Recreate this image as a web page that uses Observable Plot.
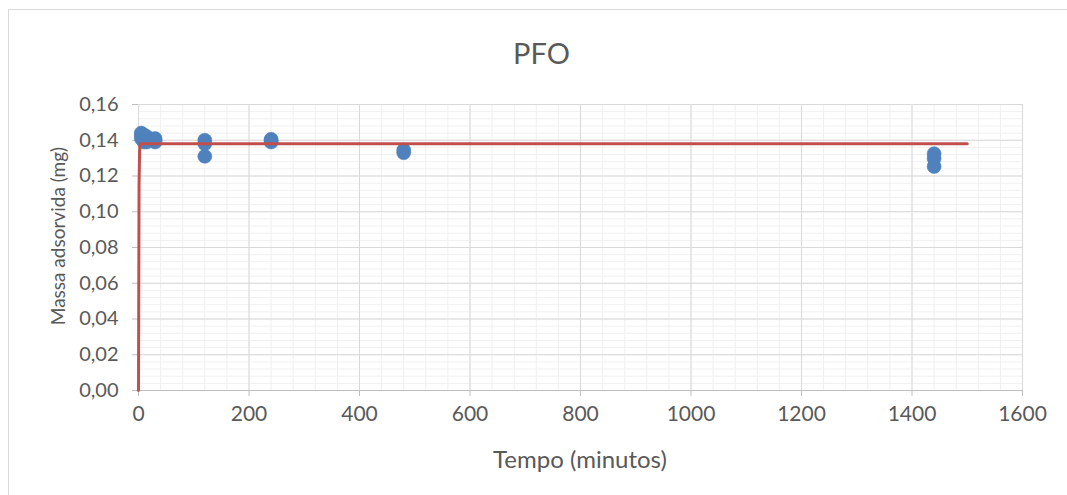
<!DOCTYPE html>
<html><head><meta charset="utf-8">
<script src="https://cdn.jsdelivr.net/npm/d3@7"></script>
<script src="https://cdn.jsdelivr.net/npm/@observablehq/plot@0.6"></script>
<style>
body{margin:0;background:#fff;}
#wrap{position:relative;width:1067px;height:495px;overflow:hidden;font-family:Lato,sans-serif;color:#595959;}
#border{position:absolute;left:8px;top:9px;width:1200px;height:700px;border:1px solid #d9d9d9;}
#title{position:absolute;left:0;width:1083px;top:35px;text-align:center;font-size:29px;}
#ylab{position:absolute;left:57px;top:236px;transform:translate(-50%,-50%) rotate(-90deg);white-space:nowrap;font-size:19px;}
#xlab{position:absolute;left:580px;top:458px;transform:translate(-50%,-50%);white-space:nowrap;font-size:24px;}
#chart{position:absolute;left:0;top:0;}
#chart svg g[aria-label$="tick"] path, #chart svg .tick line{stroke:#bfbfbf;}
#chart svg g[aria-label="x-axis tick label"] text{font-size:21px;}
</style></head>
<body><div id="wrap"><div id="border"></div><div id="title">PFO</div>
<div id="ylab">Massa adsorvida (mg)</div><div id="xlab">Tempo (minutos)</div>
<div id="chart"></div></div>
<script>
// Experimental points (Tempo em minutos, massa adsorvida em mg)
const tempo = [5, 5, 5, 10, 10, 10, 15, 15, 30, 30, 30, 120, 120, 120, 240, 240, 240, 480, 480, 1440, 1440, 1440];
const massa = [0.144, 0.143, 0.141, 0.143, 0.141, 0.139, 0.142, 0.139, 0.141, 0.139, 0.140, 0.140, 0.138, 0.131, 0.1405, 0.139, 0.140, 0.1345, 0.133, 0.1325, 0.1298, 0.1253];
// PFO fitted curve
const curveTempo = [0, 1, 2, 3, 1500];
const curveMassa = [0, 0.115, 0.134, 0.138, 0.138];
const xTicks = [0, 200, 400, 600, 800, 1000, 1200, 1400, 1600];
const yTicks = [0, 0.02, 0.04, 0.06, 0.08, 0.10, 0.12, 0.14, 0.16];
const xMinor = d3.range(0, 1601, 40);
const yMinor = d3.range(0, 41).map(i => i * 0.004);

const points = tempo.map((t, i) => ({t, m: massa[i]}));
const curve = curveTempo.map((t, i) => ({t, m: curveMassa[i]}));

const chart = Plot.plot({
  width: 1067, height: 495,
  marginLeft: 138, marginRight: 45, marginTop: 104, marginBottom: 105,
  style: {background: "transparent", fontFamily: "Lato, sans-serif", fontSize: "20px", color: "#595959"},
  x: {domain: [0, 1600], ticks: xTicks, tickSize: 6, tickPadding: 10, label: null, tickFormat: d => String(d)},
  y: {domain: [0, 0.16], ticks: yTicks, tickSize: 6, tickPadding: 14, label: null,
      tickFormat: d => d.toFixed(2).replace(".", ",")},
  marks: [
    Plot.ruleX(xMinor, {stroke: "#f0f0f0", strokeOpacity: 1}),
    Plot.ruleY(yMinor, {stroke: "#f0f0f0", strokeOpacity: 1}),
    Plot.ruleX(xTicks, {stroke: "#d9d9d9", strokeOpacity: 1}),
    Plot.ruleY(yTicks, {stroke: "#d9d9d9", strokeOpacity: 1}),
    Plot.ruleY([0], {stroke: "#bfbfbf", strokeOpacity: 1}),
    Plot.dot(points, {x: "t", y: "m", r: 7, fill: "#4F81BD", stroke: "#4F81BD", strokeWidth: 0.5}),
    Plot.line(curve, {x: "t", y: "m", stroke: "#C0504D", strokeWidth: 3, curve: "linear"})
  ]
});
document.getElementById("chart").appendChild(chart);
</script>
</body></html>
